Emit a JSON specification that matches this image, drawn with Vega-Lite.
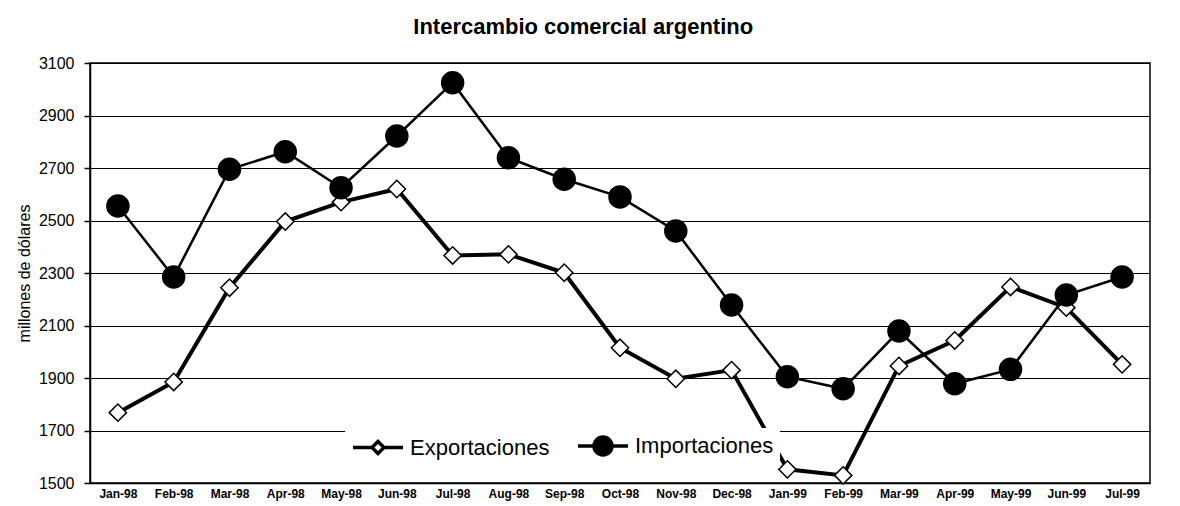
{
  "$schema": "https://vega.github.io/schema/vega-lite/v6.json",
  "width": 1060,
  "height": 420,
  "autosize": {"type": "pad"},
  "padding": {"left": 16, "top": 16, "right": 27, "bottom": 5},
  "background": "white",
  "title": {
    "text": "Intercambio comercial argentino",
    "font": "Liberation Sans",
    "fontSize": 22,
    "fontWeight": "bold",
    "color": "black",
    "anchor": "middle",
    "frame": "bounds",
    "offset": 16
  },
  "data": {
    "values": [
      {"mes": "Jan-98", "serie": "Exportaciones", "valor": 1768},
      {"mes": "Feb-98", "serie": "Exportaciones", "valor": 1885},
      {"mes": "Mar-98", "serie": "Exportaciones", "valor": 2244},
      {"mes": "Apr-98", "serie": "Exportaciones", "valor": 2496},
      {"mes": "May-98", "serie": "Exportaciones", "valor": 2570},
      {"mes": "Jun-98", "serie": "Exportaciones", "valor": 2620},
      {"mes": "Jul-98", "serie": "Exportaciones", "valor": 2367},
      {"mes": "Aug-98", "serie": "Exportaciones", "valor": 2371},
      {"mes": "Sep-98", "serie": "Exportaciones", "valor": 2301},
      {"mes": "Oct-98", "serie": "Exportaciones", "valor": 2015},
      {"mes": "Nov-98", "serie": "Exportaciones", "valor": 1897},
      {"mes": "Dec-98", "serie": "Exportaciones", "valor": 1930},
      {"mes": "Jan-99", "serie": "Exportaciones", "valor": 1552},
      {"mes": "Feb-99", "serie": "Exportaciones", "valor": 1529},
      {"mes": "Mar-99", "serie": "Exportaciones", "valor": 1946},
      {"mes": "Apr-99", "serie": "Exportaciones", "valor": 2043},
      {"mes": "May-99", "serie": "Exportaciones", "valor": 2247},
      {"mes": "Jun-99", "serie": "Exportaciones", "valor": 2168},
      {"mes": "Jul-99", "serie": "Exportaciones", "valor": 1952},
      {"mes": "Jan-98", "serie": "Importaciones", "valor": 2555},
      {"mes": "Feb-98", "serie": "Importaciones", "valor": 2285},
      {"mes": "Mar-98", "serie": "Importaciones", "valor": 2695},
      {"mes": "Apr-98", "serie": "Importaciones", "valor": 2762},
      {"mes": "May-98", "serie": "Importaciones", "valor": 2625},
      {"mes": "Jun-98", "serie": "Importaciones", "valor": 2822},
      {"mes": "Jul-98", "serie": "Importaciones", "valor": 3025},
      {"mes": "Aug-98", "serie": "Importaciones", "valor": 2739},
      {"mes": "Sep-98", "serie": "Importaciones", "valor": 2657},
      {"mes": "Oct-98", "serie": "Importaciones", "valor": 2590},
      {"mes": "Nov-98", "serie": "Importaciones", "valor": 2460},
      {"mes": "Dec-98", "serie": "Importaciones", "valor": 2178},
      {"mes": "Jan-99", "serie": "Importaciones", "valor": 1905},
      {"mes": "Feb-99", "serie": "Importaciones", "valor": 1859},
      {"mes": "Mar-99", "serie": "Importaciones", "valor": 2079},
      {"mes": "Apr-99", "serie": "Importaciones", "valor": 1878},
      {"mes": "May-99", "serie": "Importaciones", "valor": 1933},
      {"mes": "Jun-99", "serie": "Importaciones", "valor": 2216},
      {"mes": "Jul-99", "serie": "Importaciones", "valor": 2285}
    ]
  },
  "encoding": {
    "x": {
      "field": "mes",
      "type": "ordinal",
      "sort": null,
      "scale": {"type": "point", "padding": 0.5},
      "axis": {
        "title": null,
        "labelAngle": 0,
        "ticks": false,
        "grid": false,
        "labelPadding": 5,
        "labelFont": "Liberation Sans",
        "labelFontSize": 12,
        "labelFontWeight": "bold",
        "labelColor": "black",
        "domainColor": "black",
        "domainWidth": 1.5
      }
    },
    "y": {
      "field": "valor",
      "type": "quantitative",
      "scale": {"domain": [1500, 3100], "nice": false, "zero": false},
      "axis": {
        "title": "millones de dólares",
        "values": [1500, 1700, 1900, 2100, 2300, 2500, 2700, 2900, 3100],
        "format": "d",
        "grid": true,
        "gridColor": "black",
        "gridWidth": 1.2,
        "gridOpacity": 1,
        "domainColor": "black",
        "domainWidth": 1.5,
        "tickColor": "black",
        "tickSize": 6,
        "tickWidth": 1.5,
        "labelFont": "Liberation Sans",
        "labelFontSize": 16,
        "labelColor": "black",
        "labelPadding": 10,
        "titleFont": "Liberation Sans",
        "titleFontSize": 16,
        "titleFontWeight": "normal",
        "titleColor": "black",
        "titlePadding": 6
      }
    }
  },
  "layer": [
    {
      "mark": {"type": "line", "color": "black"},
      "encoding": {
        "detail": {"field": "serie"},
        "strokeWidth": {
          "condition": {"test": "datum.serie === 'Exportaciones'", "value": 4},
          "value": 2.5
        }
      }
    },
    {
      "mark": {"type": "point", "filled": true, "stroke": "black", "strokeWidth": 1.5, "opacity": 1},
      "encoding": {
        "fill": {
          "field": "serie",
          "type": "nominal",
          "scale": {"domain": ["Exportaciones", "Importaciones"], "range": ["white", "black"]}
        },
        "shape": {
          "condition": {"test": "datum.serie === 'Exportaciones'", "value": "diamond"},
          "value": "circle"
        },
        "size": {
          "condition": {"test": "datum.serie === 'Exportaciones'", "value": 300},
          "value": 484
        }
      }
    },
    {
      "mark": {"type": "point", "filled": true, "stroke": "black", "strokeWidth": 3.5, "size": 0, "opacity": 1},
      "encoding": {
        "fill": {
          "field": "serie",
          "type": "nominal",
          "scale": {"domain": ["Exportaciones", "Importaciones"], "range": ["white", "black"]}
        },
        "shape": {
          "field": "serie",
          "type": "nominal",
          "scale": {
            "domain": ["Exportaciones", "Importaciones"],
            "range": [
              "M-2.5,0H-0.6M0.6,0H2.5M-0.6,0L0,-0.6L0.6,0L0,0.6Z",
              "M-2.5,0H2.5M-0.9,0A0.9,0.9,0,1,1,0.9,0A0.9,0.9,0,1,1,-0.9,0Z"
            ]
          },
          "legend": {
            "title": null,
            "orient": "none",
            "legendX": 255,
            "legendY": 365,
            "direction": "horizontal",
            "fillColor": "white",
            "padding": 6,
            "labelFont": "Liberation Sans",
            "labelFontSize": 22,
            "labelColor": "black",
            "symbolSize": 400,
            "symbolOffset": 15,
            "labelOffset": 20,
            "columnPadding": 21,
            "symbolStrokeColor": "black",
            "symbolStrokeWidth": 3.5
          }
        }
      }
    }
  ],
  "config": {
    "view": {"stroke": "black", "strokeWidth": 1.5}
  }
}
